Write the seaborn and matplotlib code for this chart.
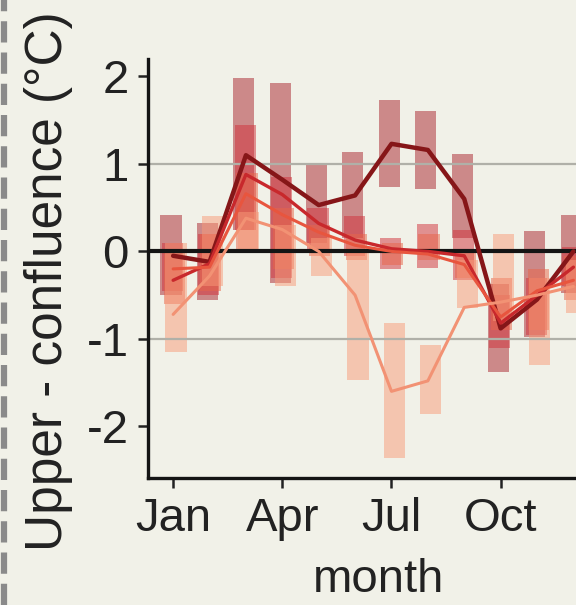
import numpy as np
import pandas as pd
import matplotlib
matplotlib.use("Agg")
import matplotlib.pyplot as plt
from matplotlib.lines import Line2D
import seaborn as sns

# monthly differences, upper site minus confluence
months = np.arange(1, 13)
month_ticks = [1, 4, 7, 10]
month_labels = ["Jan", "Apr", "Jul", "Oct"]
series_names = ["s1", "s2", "s3", "s4"]

# median lines
med_s1 = [-0.05, -0.12, 1.10, 0.82, 0.53, 0.64, 1.23, 1.16, 0.60, -0.88, -0.55, 0.00]
med_s2 = [-0.33, -0.14, 0.88, 0.65, 0.32, 0.13, 0.03, 0.00, -0.05, -0.82, -0.50, -0.18]
med_s3 = [-0.20, -0.18, 0.66, 0.42, 0.22, 0.07, 0.00, -0.03, -0.15, -0.75, -0.45, -0.33]
med_s4 = [-0.72, -0.28, 0.38, 0.25, 0.00, -0.50, -1.60, -1.48, -0.64, -0.58, -0.50, -0.40]

# range bars (low, high)
lo_s1 = [-0.50, -0.56, 0.25, -0.36, 0.10, 0.15, 0.74, 0.71, 0.15, -1.38, -0.98, -0.48]
hi_s1 = [0.42, 0.32, 1.98, 1.92, 1.00, 1.14, 1.73, 1.60, 1.11, -0.37, 0.23, 0.42]
lo_s2 = [-0.45, -0.50, 0.25, -0.30, 0.00, -0.05, -0.20, -0.19, -0.33, -1.10, -0.95, -0.40]
hi_s2 = [0.10, 0.20, 1.44, 0.85, 0.50, 0.40, 0.15, 0.31, 0.25, -0.50, -0.30, 0.05]
lo_s3 = [-0.60, -0.45, 0.00, -0.20, -0.05, -0.10, -0.15, -0.10, -0.30, -0.90, -0.90, -0.55]
hi_s3 = [0.00, 0.20, 0.90, 0.50, 0.30, 0.20, 0.10, 0.20, 0.00, -0.30, -0.20, -0.05]
lo_s4 = [-1.15, -0.40, 0.00, -0.40, -0.28, -1.47, -2.36, -1.86, -0.65, -0.80, -1.30, -0.70]
hi_s4 = [0.10, 0.41, 0.45, 0.30, 0.15, 0.00, -0.82, -1.07, -0.10, 0.20, -0.30, -0.10]

line_colors = ["#861618", "#c8282c", "#e8553e", "#f29274"]
bar_colors = ["#a8222c", "#d0303a", "#e86448", "#f89a78"]
line_widths = [3.2, 2.4, 2.2, 2.2]
offsets = [-0.06, -0.02, 0.03, 0.08]

meds = [med_s1, med_s2, med_s3, med_s4]
los = [lo_s1, lo_s2, lo_s3, lo_s4]
his = [hi_s1, hi_s2, hi_s3, hi_s4]

df = pd.concat([pd.DataFrame({"month": months, "diff": m, "series": n})
                for m, n in zip(meds, series_names)], ignore_index=True)

sns.set_theme(style="ticks")
plt.rcParams["font.family"] = ["Liberation Sans", "DejaVu Sans"]
plt.rcParams["axes.unicode_minus"] = False
bg = "#f1f1e8"

fig = plt.figure(figsize=(5.76, 6.05), dpi=100, facecolor=bg)
ax = fig.add_axes([0.257, 0.21, 0.8017, 0.6925], facecolor=bg)

# range bars
for lo, hi, c, off in zip(los, his, bar_colors, offsets):
    lo = np.array(lo)
    hi = np.array(hi)
    ax.bar(months + off, hi - lo, bottom=lo, width=0.58, color=c,
           alpha=0.5, linewidth=0, zorder=1)

ax.axhline(1, color="#b0b0a8", lw=1.6, zorder=2)
ax.axhline(-1, color="#b0b0a8", lw=1.6, zorder=2)
ax.axhline(0, color="#141414", lw=3.0, zorder=3)

for name, c, lw in zip(series_names, line_colors, line_widths):
    sns.lineplot(data=df[df["series"] == name], x="month", y="diff",
                 color=c, linewidth=lw, ax=ax, zorder=4)

ax.set_xlim(0.31, 13)
ax.set_ylim(-2.59, 2.2)
ax.set_xticks(month_ticks)
ax.set_xticklabels(month_labels)
ax.set_yticks([-2, -1, 0, 1, 2])
ax.set_yticklabels(["-2", "-1", "0", "1", "2"])
ax.tick_params(labelsize=34, length=7, width=1.8, color="#222222",
               labelcolor="#222222", pad=7)
for s in ["top", "right"]:
    ax.spines[s].set_visible(False)
for s in ["left", "bottom"]:
    ax.spines[s].set_linewidth(2.4)
    ax.spines[s].set_color("#141414")

ax.set_xlabel("month", fontsize=34, color="#222222", labelpad=12)
ax.set_ylabel("Upper - confluence (°C)", fontsize=37, color="#222222", labelpad=10)
ax.yaxis.label.set_y(0.47)

# dashed panel border on the left
fig.add_artist(Line2D([0.007, 0.007], [0, 1], transform=fig.transFigure,
                      color="#8a8a8a", lw=4.5, linestyle=(0, (3.4, 1.6))))

fig.savefig("out.png", dpi=100, facecolor=bg)
